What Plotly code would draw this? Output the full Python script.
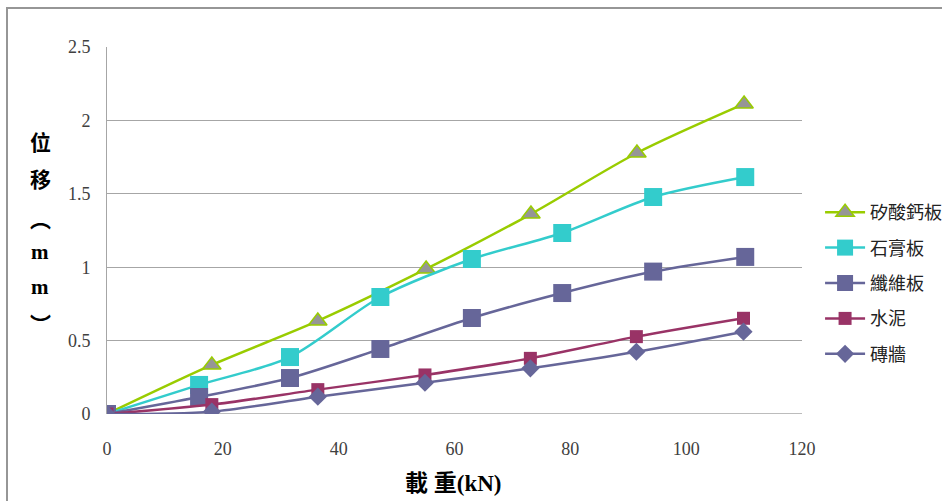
import plotly.graph_objects as go

# Load (kN) and displacement (mm) for each wall panel type
series_names = ["矽酸鈣板", "石膏板", "纖維板", "水泥", "磚牆"]

load_calcium = [0, 18.1, 36.4, 55.1, 73.2, 91.5, 110.0]
disp_calcium = [0, 0.334, 0.634, 0.988, 1.362, 1.778, 2.112]

load_gypsum = [0, 15.9, 31.6, 47.2, 63.0, 78.6, 94.3, 110.2]
disp_gypsum = [0, 0.198, 0.388, 0.797, 1.056, 1.233, 1.478, 1.614]

load_fiber = [0, 15.9, 31.6, 47.2, 63.0, 78.6, 94.3, 110.2]
disp_fiber = [0, 0.116, 0.245, 0.443, 0.654, 0.824, 0.970, 1.070]

load_cement = [0, 18.1, 36.4, 54.9, 73.1, 91.4, 109.9]
disp_cement = [0, 0.064, 0.166, 0.266, 0.379, 0.527, 0.652]

load_brick = [0, 18.1, 36.4, 54.9, 73.1, 91.4, 109.9]
disp_brick = [0, 0.016, 0.118, 0.213, 0.311, 0.424, 0.561]

x_ticks = [0, 20, 40, 60, 80, 100, 120]
y_ticks = [0, 0.5, 1, 1.5, 2, 2.5]

serif = "'Liberation Serif', 'Times New Roman', serif"
cjk = "'Noto Sans CJK TC', 'Noto Sans CJK SC', sans-serif"

styles = [
    dict(line=dict(color="#99CC00", width=2.5),
         marker=dict(symbol="triangle-up", size=16, color="#969696",
                     line=dict(color="#99CC00", width=1.5))),
    dict(line=dict(color="#33CCCC", width=2.5),
         marker=dict(symbol="square", size=18, color="#33CCCC",
                     line=dict(width=0))),
    dict(line=dict(color="#666699", width=2.5),
         marker=dict(symbol="square", size=18, color="#666699",
                     line=dict(width=0))),
    dict(line=dict(color="#993366", width=2.5),
         marker=dict(symbol="square", size=13, color="#993366",
                     line=dict(width=0))),
    dict(line=dict(color="#666699", width=2.5),
         marker=dict(symbol="diamond", size=14, color="#666699",
                     line=dict(width=0))),
]

data = [
    (load_calcium, disp_calcium),
    (load_gypsum, disp_gypsum),
    (load_fiber, disp_fiber),
    (load_cement, disp_cement),
    (load_brick, disp_brick),
]

fig = go.Figure()
for name, (xs, ys), st in zip(series_names, data, styles):
    fig.add_trace(go.Scatter(
        x=xs, y=ys, name=name, mode="lines+markers",
        line=dict(shape="spline", smoothing=0.8, **st["line"]),
        marker=st["marker"], legendgroup=name,
    ))

fig.update_layout(
    width=942, height=501,
    margin=dict(l=107, r=140, t=47, b=87, autoexpand=False),
    paper_bgcolor="white", plot_bgcolor="white",
    showlegend=True,
    legend=dict(
        x=1.026, y=(414 - 283) / 367, xanchor="left", yanchor="middle",
        font=dict(family=cjk, size=18, color="#222222"),
        traceorder="grouped", tracegroupgap=9,
        bgcolor="rgba(0,0,0,0)", itemwidth=40, itemsizing="trace",
    ),
    xaxis=dict(
        range=[0, 120], tickvals=x_ticks, ticktext=[str(v) for v in x_ticks],
        showgrid=False, zeroline=False, showline=False,
        ticks="", ticklabelstandoff=22,
        tickfont=dict(family=serif, size=18, color="#404040"),
    ),
    yaxis=dict(
        range=[0, 2.5], tickvals=y_ticks, ticktext=["0", "0.5", "1", "1.5", "2", "2.5"],
        showgrid=True, gridcolor="#A6A6A6", gridwidth=1,
        zeroline=False, showline=True, linecolor="#A6A6A6", linewidth=1,
        ticks="", ticklabelstandoff=12,
        tickfont=dict(family=serif, size=18, color="#404040"),
    ),
)

# Baseline along y = 0
fig.add_shape(type="line", xref="paper", yref="y", x0=0, x1=1, y0=0, y1=0,
              line=dict(color="#A6A6A6", width=1.5), layer="below")

# Outer chart frame
fig.add_shape(type="rect", xref="paper", yref="paper",
              x0=-100 / 695, x1=1.3, y0=-0.3, y1=1 + 39 / 367,
              line=dict(color="#969696", width=2), layer="below")

# Vertical y-axis title, one character per line
title_chars = ["位", "移", "︵", "m", "m", "︶"]
title_rows = [141, 178, 218, 252, 287, 323]
for ch, py in zip(title_chars, title_rows):
    fig.add_annotation(
        text=f"<b>{ch}</b>", xref="paper", yref="paper",
        x=(40 - 107) / 695, y=(414 - py) / 367,
        showarrow=False, xanchor="center", yanchor="middle",
        font=dict(family=serif + ", " + cjk if ch == "m" else cjk, size=21, color="black"),
    )

# X-axis title
fig.add_annotation(
    text="<b>載 重(kN)</b>", xref="paper", yref="paper",
    x=(453 - 107) / 695, y=(414 - 483) / 367,
    showarrow=False, xanchor="center", yanchor="middle",
    font=dict(family=serif + ", " + cjk, size=23, color="black"),
)

fig.write_html("out.html")
